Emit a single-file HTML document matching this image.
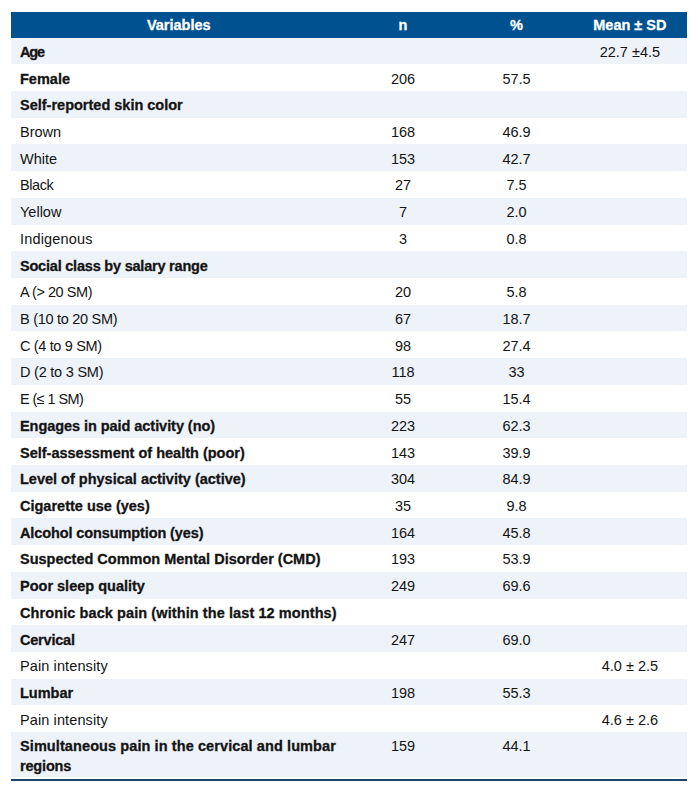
<!DOCTYPE html><html><head><meta charset="utf-8"><style>
html,body{margin:0;padding:0;background:#fff;width:698px;height:793px;overflow:hidden;position:relative}
.t{position:absolute;font-family:"Liberation Sans",sans-serif;font-size:14.5px;line-height:16.660px;white-space:nowrap;color:#141414}
.b{font-weight:bold;-webkit-text-stroke:0.3px currentColor}
.c{text-align:center}
.bg{position:absolute;left:11.4px;width:675.20px}
</style></head><body>

<div class="bg" style="top:11.7px;height:25.90px;background:#00518f"></div>
<div class="t b c" style="left:11.40px;width:334.80px;top:16.68px;color:#ffffff">Variables</div>
<div class="t b c" style="left:346.20px;width:113.60px;top:16.68px;color:#ffffff">n</div>
<div class="t b c" style="left:459.80px;width:113.40px;top:16.68px;color:#ffffff">%</div>
<div class="t b c" style="left:573.20px;width:113.40px;top:16.68px;color:#ffffff">Mean ± SD</div>
<div class="bg" style="top:37.60px;height:26.71px;background:#eef2f9"></div>
<div class="t b" style="left:20px;top:43.88px;letter-spacing:-1.150px;">Age</div>
<div class="t c" style="left:573.20px;width:113.40px;top:43.88px">22.7 ±4.5</div>
<div class="t b" style="left:20px;top:70.59px;">Female</div>
<div class="t c" style="left:346.20px;width:113.60px;top:70.59px">206</div>
<div class="t c" style="left:459.80px;width:113.40px;top:70.59px">57.5</div>
<div class="bg" style="top:91.02px;height:26.71px;background:#eef2f9"></div>
<div class="t b" style="left:20px;top:97.30px;">Self-reported skin color</div>
<div class="t" style="left:20px;top:124.01px;">Brown</div>
<div class="t c" style="left:346.20px;width:113.60px;top:124.01px">168</div>
<div class="t c" style="left:459.80px;width:113.40px;top:124.01px">46.9</div>
<div class="bg" style="top:144.44px;height:26.71px;background:#eef2f9"></div>
<div class="t" style="left:20px;top:150.72px;">White</div>
<div class="t c" style="left:346.20px;width:113.60px;top:150.72px">153</div>
<div class="t c" style="left:459.80px;width:113.40px;top:150.72px">42.7</div>
<div class="t" style="left:20px;top:177.43px;letter-spacing:-0.400px;">Black</div>
<div class="t c" style="left:346.20px;width:113.60px;top:177.43px">27</div>
<div class="t c" style="left:459.80px;width:113.40px;top:177.43px">7.5</div>
<div class="bg" style="top:197.86px;height:26.71px;background:#eef2f9"></div>
<div class="t" style="left:20px;top:204.14px;">Yellow</div>
<div class="t c" style="left:346.20px;width:113.60px;top:204.14px">7</div>
<div class="t c" style="left:459.80px;width:113.40px;top:204.14px">2.0</div>
<div class="t" style="left:20px;top:230.85px;letter-spacing:0.167px;">Indigenous</div>
<div class="t c" style="left:346.20px;width:113.60px;top:230.85px">3</div>
<div class="t c" style="left:459.80px;width:113.40px;top:230.85px">0.8</div>
<div class="bg" style="top:251.28px;height:26.71px;background:#eef2f9"></div>
<div class="t b" style="left:20px;top:257.56px;letter-spacing:-0.211px;">Social class by salary range</div>
<div class="t" style="left:20px;top:284.27px;letter-spacing:-0.450px;">A (&gt; 20 SM)</div>
<div class="t c" style="left:346.20px;width:113.60px;top:284.27px">20</div>
<div class="t c" style="left:459.80px;width:113.40px;top:284.27px">5.8</div>
<div class="bg" style="top:304.70px;height:26.71px;background:#eef2f9"></div>
<div class="t" style="left:20px;top:310.98px;letter-spacing:-0.279px;">B (10 to 20 SM)</div>
<div class="t c" style="left:346.20px;width:113.60px;top:310.98px">67</div>
<div class="t c" style="left:459.80px;width:113.40px;top:310.98px">18.7</div>
<div class="t" style="left:20px;top:337.69px;letter-spacing:-0.350px;">C (4 to 9 SM)</div>
<div class="t c" style="left:346.20px;width:113.60px;top:337.69px">98</div>
<div class="t c" style="left:459.80px;width:113.40px;top:337.69px">27.4</div>
<div class="bg" style="top:358.12px;height:26.71px;background:#eef2f9"></div>
<div class="t" style="left:20px;top:364.40px;letter-spacing:-0.225px;">D (2 to 3 SM)</div>
<div class="t c" style="left:346.20px;width:113.60px;top:364.40px">118</div>
<div class="t c" style="left:459.80px;width:113.40px;top:364.40px">33</div>
<div class="t" style="left:20px;top:391.11px;letter-spacing:-0.589px;">E (≤ 1 SM)</div>
<div class="t c" style="left:346.20px;width:113.60px;top:391.11px">55</div>
<div class="t c" style="left:459.80px;width:113.40px;top:391.11px">15.4</div>
<div class="bg" style="top:411.54px;height:26.71px;background:#eef2f9"></div>
<div class="t b" style="left:20px;top:417.82px;letter-spacing:-0.054px;">Engages in paid activity (no)</div>
<div class="t c" style="left:346.20px;width:113.60px;top:417.82px">223</div>
<div class="t c" style="left:459.80px;width:113.40px;top:417.82px">62.3</div>
<div class="t b" style="left:20px;top:444.53px;">Self-assessment of health (poor)</div>
<div class="t c" style="left:346.20px;width:113.60px;top:444.53px">143</div>
<div class="t c" style="left:459.80px;width:113.40px;top:444.53px">39.9</div>
<div class="bg" style="top:464.96px;height:26.71px;background:#eef2f9"></div>
<div class="t b" style="left:20px;top:471.24px;">Level of physical activity (active)</div>
<div class="t c" style="left:346.20px;width:113.60px;top:471.24px">304</div>
<div class="t c" style="left:459.80px;width:113.40px;top:471.24px">84.9</div>
<div class="t b" style="left:20px;top:497.95px;">Cigarette use (yes)</div>
<div class="t c" style="left:346.20px;width:113.60px;top:497.95px">35</div>
<div class="t c" style="left:459.80px;width:113.40px;top:497.95px">9.8</div>
<div class="bg" style="top:518.38px;height:26.71px;background:#eef2f9"></div>
<div class="t b" style="left:20px;top:524.66px;letter-spacing:-0.108px;">Alcohol consumption (yes)</div>
<div class="t c" style="left:346.20px;width:113.60px;top:524.66px">164</div>
<div class="t c" style="left:459.80px;width:113.40px;top:524.66px">45.8</div>
<div class="t b" style="left:20px;top:551.37px;">Suspected Common Mental Disorder (CMD)</div>
<div class="t c" style="left:346.20px;width:113.60px;top:551.37px">193</div>
<div class="t c" style="left:459.80px;width:113.40px;top:551.37px">53.9</div>
<div class="bg" style="top:571.80px;height:26.71px;background:#eef2f9"></div>
<div class="t b" style="left:20px;top:578.08px;">Poor sleep quality</div>
<div class="t c" style="left:346.20px;width:113.60px;top:578.08px">249</div>
<div class="t c" style="left:459.80px;width:113.40px;top:578.08px">69.6</div>
<div class="t b" style="left:20px;top:604.79px;letter-spacing:0.091px;">Chronic back pain (within the last 12 months)</div>
<div class="bg" style="top:625.22px;height:26.71px;background:#eef2f9"></div>
<div class="t b" style="left:20px;top:631.50px;letter-spacing:-0.214px;">Cervical</div>
<div class="t c" style="left:346.20px;width:113.60px;top:631.50px">247</div>
<div class="t c" style="left:459.80px;width:113.40px;top:631.50px">69.0</div>
<div class="t" style="left:20px;top:658.21px;letter-spacing:0.108px;">Pain intensity</div>
<div class="t c" style="left:573.20px;width:113.40px;top:658.21px">4.0 ± 2.5</div>
<div class="bg" style="top:678.64px;height:26.71px;background:#eef2f9"></div>
<div class="t b" style="left:20px;top:684.92px;">Lumbar</div>
<div class="t c" style="left:346.20px;width:113.60px;top:684.92px">198</div>
<div class="t c" style="left:459.80px;width:113.40px;top:684.92px">55.3</div>
<div class="t" style="left:20px;top:711.63px;letter-spacing:0.108px;">Pain intensity</div>
<div class="t c" style="left:573.20px;width:113.40px;top:711.63px">4.6 ± 2.6</div>
<div class="bg" style="top:732.06px;height:45.00px;background:#eef2f9"></div>
<div class="t b" style="left:20px;top:738.34px;letter-spacing:0.093px">Simultaneous pain in the cervical and lumbar</div>
<div class="t b" style="left:20px;top:758.34px;letter-spacing:-0.17px">regions</div>
<div class="t c" style="left:346.20px;width:113.60px;top:738.34px">159</div>
<div class="t c" style="left:459.80px;width:113.40px;top:738.34px">44.1</div>
<div class="bg" style="top:778.80px;height:2px;background:#1a4670"></div>
</body></html>
